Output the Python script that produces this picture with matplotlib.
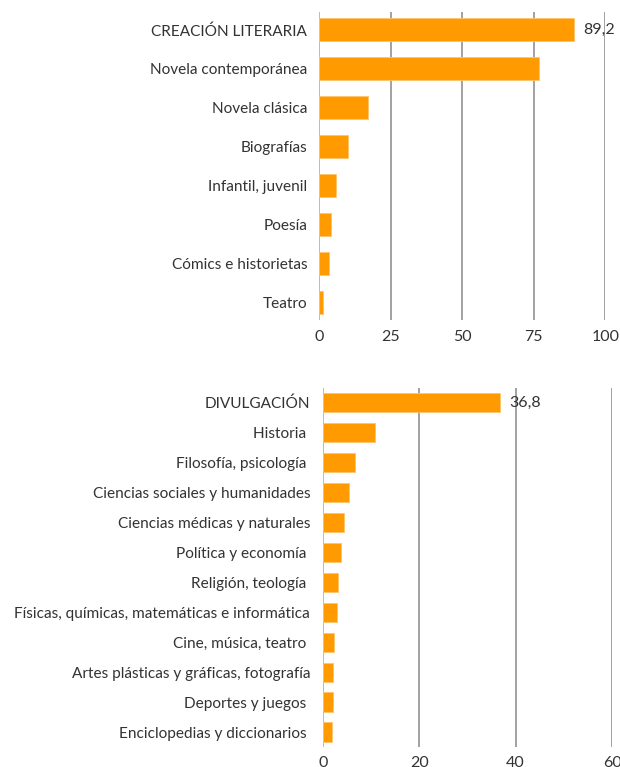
import matplotlib
matplotlib.use("Agg")
from matplotlib import pyplot as plt

plt.rcParams['font.family'] = ['Lato', 'DejaVu Sans']

# datos - creación literaria
cat_lit = ["CREACIÓN LITERARIA", "Novela contemporánea", "Novela clásica", "Biografías",
           "Infantil, juvenil", "Poesía", "Cómics e historietas", "Teatro"]
val_lit = [89.2, 76.8, 17.2, 10.0, 5.8, 4.2, 3.4, 1.4]

# datos - divulgación
cat_div = ["DIVULGACIÓN", "Historia ", "Filosofía, psicología ", "Ciencias sociales y humanidades",
           "Ciencias médicas y naturales", "Política y economía ", "Religión, teología ",
           "Físicas, químicas, matemáticas e informática", "Cine, música, teatro ",
           "Artes plásticas y gráficas, fotografía", "Deportes y juegos ",
           "Enciclopedias y diccionarios "]
val_div = [36.8, 10.8, 6.8, 5.45, 4.35, 3.8, 3.2, 3.0, 2.3, 2.1, 2.05, 1.9]

ticks_lit = [0, 25, 50, 75, 100]
ticks_div = [0, 20, 40, 60]

orange = "#FF9A00"
grid_c = "#9a9a9a"
text_c = "#333333"

fig = plt.figure(figsize=(6.2, 7.67), dpi=100)
ax1 = fig.add_axes([0.5145, 0.5828, 0.4618, 0.4016])
ax2 = fig.add_axes([0.5205, 0.0265, 0.4666, 0.4677])


def panel(ax, cats, vals, ticks, bar_h, margin, pad):
    y = list(range(len(cats)))
    ax.barh(y, vals, height=bar_h, color=orange, edgecolor="#FFC46B", linewidth=0.6, zorder=3)
    ax.set_ylim(len(cats) - 1 + margin, -margin)
    ax.set_xlim(0, ticks[-1])
    ax.set_yticks(y)
    ax.set_yticklabels(cats, fontsize=11.1, color=text_c)
    ax.set_xticks(ticks)
    ax.set_xticklabels([str(t) for t in ticks], fontsize=11.5, color=text_c)
    ax.tick_params(axis="y", length=0, pad=pad)
    ax.tick_params(axis="x", length=0, pad=7)
    for s in ax.spines.values():
        s.set_visible(False)
    for t in ticks:
        ax.axvline(t, color="#b5b5b5" if t == 0 else grid_c, linewidth=1.3, zorder=1)
    # etiqueta del total
    ax.annotate("{:.1f}".format(vals[0]).replace(".", ","), (vals[0], 0),
                xytext=(6.5, 0), textcoords="offset points", va="center", ha="left",
                fontsize=11.5, color=text_c, zorder=4)


panel(ax1, cat_lit, val_lit, ticks_lit, 0.59, 0.46, 8.5)
panel(ax2, cat_div, val_div, ticks_div, 0.64, 0.49, 9)

fig.savefig("out.png", dpi=100)
